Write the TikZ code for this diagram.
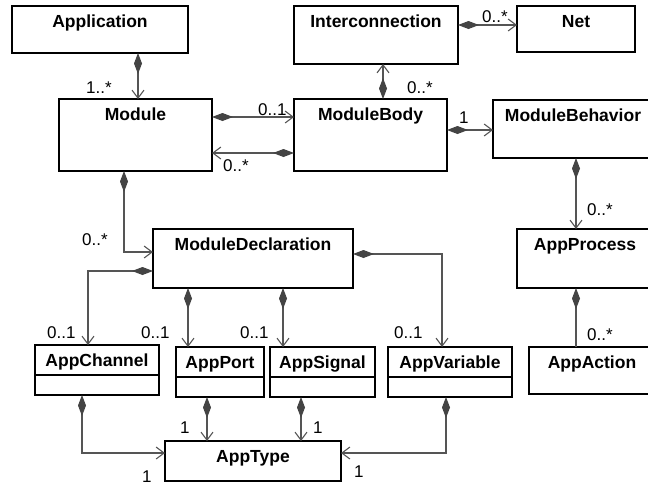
\documentclass[tikz,border=0pt]{standalone}
\usepackage{fontspec}
\setmainfont{Liberation Sans}
\usetikzlibrary{arrows.meta}
\definecolor{linkgray}{RGB}{85,85,85}
\definecolor{diagray}{RGB}{68,68,68}
\tikzset{
  cls/.style={draw=black, line width=1.3pt, fill=white, anchor=north west,
    inner sep=0pt, outer sep=0pt},
  ttl/.style={font=\fontsize{17.5}{20}\selectfont\bfseries, anchor=base, inner sep=0pt},
  mult/.style={font=\fontsize{17}{20}\selectfont, anchor=base west, inner sep=0pt},
  link/.style={draw=linkgray, line width=1.1pt},
  comp/.style={link, {Diamond[length=21pt,width=8pt,fill=diagray,color=diagray]}-{Straight Barb[length=8pt,width=12pt]}},
  compend/.style={link, {Diamond[length=21pt,width=8pt,fill=diagray,color=diagray]}-},
}
% class box: name, left, top, width, height, title
\newcommand{\umlclass}[6]{%
  \node[cls, minimum width=#4pt, minimum height=#5pt] (#1) at (#2,#3) {};
  \node[ttl] (#1-t) at ([yshift=-21pt]#1.north) {#6};}
% horizontal compartment line, given its distance below the top edge
\newcommand{\umlsplit}[2]{%
  \draw[line width=1.3pt] ([yshift=-#2pt]#1.north west) -- ([yshift=-#2pt]#1.north east);}

\begin{document}
\begin{tikzpicture}[x=1pt, y=-1pt]
\useasboundingbox (0,0) rectangle (648,485);
\clip (0,0) rectangle (648,485);

% classes
\umlclass{app}{12}{6}{176}{47}{Application}
\umlclass{inter}{294}{6}{164}{58}{Interconnection}
\umlclass{net}{517}{6}{118}{46}{Net}
\umlclass{module}{59}{99}{153}{72}{Module}
\umlclass{body}{294}{99}{153}{72}{ModuleBody}
\umlclass{behav}{493}{100}{160}{58}{ModuleBehavior}
\umlclass{decl}{153}{229}{200}{59}{ModuleDeclaration}
\umlclass{proc}{517}{229}{136}{59}{AppProcess}
\umlclass{chan}{35}{345}{124}{50}{AppChannel}
\umlclass{port}{176}{347}{88}{50}{AppPort}
\umlclass{signal}{270}{347}{105}{50}{AppSignal}
\umlclass{var}{388}{347}{124}{50}{AppVariable}
\umlclass{action}{529}{347}{126}{47}{AppAction}
\umlclass{type}{165}{441}{176}{40}{AppType}
\umlsplit{chan}{30}
\umlsplit{port}{30}
\umlsplit{signal}{30}
\umlsplit{var}{30}

% compositions
\draw[comp] (app.south -| 138,0) -- (module.north -| 138,0);
\draw[comp] (module.east |- 0,117) -- (body.west |- 0,117);
\draw[comp] (body.west |- 0,153) -- (module.east |- 0,153);
\draw[comp] (body.north -| 383,0) -- (inter.south -| 383,0);
\draw[comp] (inter.east |- 0,25) -- (net.west |- 0,25);
\draw[comp] (body.east |- 0,130) -- (behav.west |- 0,130);
\draw[comp] (behav.south -| 576,0) -- (proc.north -| 576,0);
\draw[comp] (module.south -| 124,0) |- (decl.west |- 0,252);
\draw[comp] (decl.west |- 0,271) -| (chan.north -| 88,0);
\draw[comp] (decl.south -| 188,0) -- (port.north -| 188,0);
\draw[comp] (decl.south -| 283,0) -- (signal.north -| 283,0);
\draw[comp] (decl.east |- 0,254) -| (var.north -| 442,0);
\draw[compend] (proc.south -| 576,0) -- (action.north -| 576,0);
\draw[comp] (chan.south -| 82,0) |- (type.west |- 0,453);
\draw[comp] (port.south -| 207,0) -- (type.north -| 207,0);
\draw[comp] (signal.south -| 301,0) -- (type.north -| 301,0);
\draw[comp] (var.south -| 446,0) |- (type.east |- 0,453);

% multiplicities
\node[mult] (m1) at (86,93) {1..*};
\node[mult] (m2) at (258,115) {0..1};
\node[mult] (m3) at (223,171) {0..*};
\node[mult] (m4) at (407,93) {0..*};
\node[mult] (m5) at (482,22) {0..*};
\node[mult] (m6) at (459,123) {1};
\node[mult] (m7) at (587,215) {0..*};
\node[mult] (m8) at (82,245) {0..*};
\node[mult] (m9) at (47,338) {0..1};
\node[mult] (m10) at (141,338) {0..1};
\node[mult] (m11) at (240,338) {0..1};
\node[mult] (m12) at (394,338) {0..1};
\node[mult] (m13) at (587,340) {0..*};
\node[mult] (m14) at (142,482) {1};
\node[mult] (m15) at (180,433) {1};
\node[mult] (m16) at (313,433) {1};
\node[mult] (m17) at (354,477) {1};
\end{tikzpicture}
\end{document}
